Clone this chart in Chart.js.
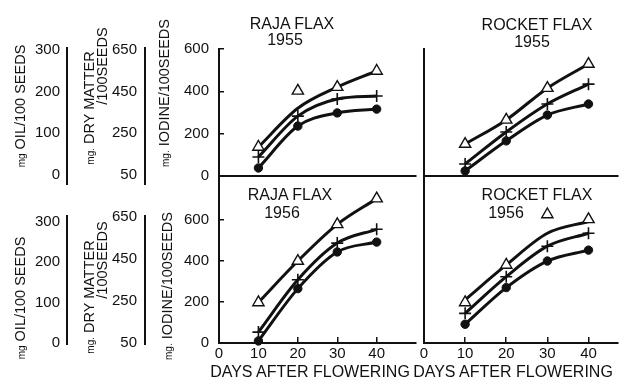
<!DOCTYPE html>
<html>
<head>
<meta charset="utf-8">
<script src="https://cdn.jsdelivr.net/npm/chart.js@4.4.1/dist/chart.umd.min.js"></script>
<style>
body { margin:0; background:#fff; width:626px; height:380px; overflow:hidden; position:relative;
       font-family:"Liberation Sans", Arial, sans-serif; color:#111; }
canvas { position:absolute; }
.lbl { position:absolute; white-space:nowrap; transform:translate(-50%,-50%); font-size:16px; line-height:1; }
.rot { position:absolute; white-space:nowrap; transform:translate(-50%,-50%) rotate(-90deg); font-size:14.5px; line-height:1; }
.rot small { font-size:10px; }
</style>
</head>
<body>
<canvas id="axTop" width="150" height="200" style="left:0;top:0"></canvas>
<canvas id="axBot" width="150" height="180" style="left:0;top:200px"></canvas>
<canvas id="rajaTop" width="274" height="190" style="left:150px;top:0"></canvas>
<canvas id="rocketTop" width="216" height="190" style="left:410px;top:0"></canvas>
<canvas id="rajaBot" width="274" height="210" style="left:150px;top:170px"></canvas>
<canvas id="rocketBot" width="216" height="210" style="left:410px;top:170px"></canvas>

<div class="rot" style="left:20px;top:106px"><small>mg</small> OIL/100 SEEDS</div>
<div class="rot" style="left:89px;top:108px"><small>mg.</small> DRY MATTER</div>
<div class="rot" style="left:102px;top:66px">/100SEEDS</div>
<div class="rot" style="left:164px;top:93px"><small>mg.</small> IODINE/100SEEDS</div>
<div class="rot" style="left:20px;top:298px"><small>mg</small> OIL/100 SEEDS</div>
<div class="rot" style="left:89px;top:297px"><small>mg.</small> DRY MATTER</div>
<div class="rot" style="left:102px;top:260px">/100SEEDS</div>
<div class="rot" style="left:167px;top:286px"><small>mg.</small> IODINE/100SEEDS</div>

<div class="lbl" style="left:292px;top:24px">RAJA FLAX</div>
<div class="lbl" style="left:285px;top:40px">1955</div>
<div class="lbl" style="left:537px;top:25px">ROCKET FLAX</div>
<div class="lbl" style="left:532px;top:42px">1955</div>
<div class="lbl" style="left:290px;top:195px">RAJA FLAX</div>
<div class="lbl" style="left:282px;top:213px">1956</div>
<div class="lbl" style="left:537px;top:195px">ROCKET FLAX</div>
<div class="lbl" style="left:506px;top:213px">1956</div>
<div class="lbl" style="left:310px;top:372px">DAYS AFTER FLOWERING</div>
<div class="lbl" style="left:513px;top:372px">DAYS AFTER FLOWERING</div>

<script>
const days = [10, 20, 30, 40];
const xTicks = [0, 10, 20, 30, 40];
const iodineTicks = [0, 200, 400, 600];
const oilTicks = [0, 100, 200, 300];
const dryTicks = [50, 250, 450, 650];

// values read on the 0-600 scale of each panel
const raja55Tri = [137, 402, 420, 496];
const raja55TriLine = [137, 320, 420, 496];
const raja55Cross = [90, 283, 364, 378];
const raja55Dot = [38, 236, 298, 316];

const rocket55Tri = [151, 265, 415, 529];
const rocket55Cross = [57, 208, 340, 434];
const rocket55Dot = [24, 166, 288, 340];

const raja56Tri = [197, 398, 576, 701];
const raja56Cross = [53, 307, 485, 552];
const raja56Dot = [10, 264, 442, 490];

const rocket56Tri = [197, 379, 624, 600];
const rocket56TriLine = [210, 379, 533, 590];
const rocket56Cross = [144, 322, 470, 533];
const rocket56Dot = [91, 269, 398, 451];

const ink = '#111';
const fam = '"Liberation Sans", Arial, sans-serif';
const tickFont = { family: fam, size: 15 };

function pts(ys) {
    return days.map((d, i) => ({ x: d, y: ys[i] }));
}

function curve(ys) {
    return { data: pts(ys), showLine: true, pointRadius: 0, borderColor: ink, borderWidth: 3,
             tension: 0.4, cubicInterpolationMode: 'monotone' };
}

function panelSets(tri, triLine, cross, dot) {
    return [
        { data: pts(tri), showLine: false, pointStyle: 'triangle', pointRadius: 6.5,
          pointBackgroundColor: '#fff', pointBorderColor: ink, pointBorderWidth: 1.4 },
        { data: pts(cross), showLine: false, pointStyle: 'cross', pointRadius: 6,
          pointBorderColor: ink, pointBorderWidth: 1.6 },
        { data: pts(dot), showLine: false, pointStyle: 'circle', pointRadius: 4.2,
          pointBackgroundColor: ink, pointBorderColor: ink, pointBorderWidth: 1 },
        curve(triLine),
        curve(cross),
        curve(dot)
    ];
}

// no automatic label padding: the panels have to meet edge to edge
function noPad(s) {
    s.paddingLeft = 0; s.paddingRight = 0; s.paddingTop = 0; s.paddingBottom = 0;
}

function panel(id, sets, o) {
    new Chart(document.getElementById(id), {
        type: 'scatter',
        data: { datasets: sets },
        options: {
            responsive: false,
            animation: false,
            devicePixelRatio: 1,
            clip: false,
            layout: { padding: o.pad },
            plugins: { legend: { display: false }, tooltip: { enabled: false } },
            scales: {
                x: {
                    type: 'linear', min: 0, max: o.xMax,
                    afterBuildTicks: s => { s.ticks = xTicks.map(v => ({ value: v })); },
                    ticks: { display: o.xLabels, font: tickFont, color: ink, padding: 8 },
                    grid: { display: o.xLabels, drawOnChartArea: false, tickLength: -6, color: ink, lineWidth: 1.5 },
                    border: { color: ink, width: 2 },
                    afterFit: s => { s.height = o.xH; noPad(s); }
                },
                y: {
                    min: 0, max: o.yMax,
                    afterBuildTicks: s => { s.ticks = iodineTicks.map(v => ({ value: v })); },
                    ticks: { display: o.yLabels, font: tickFont, color: ink, padding: 15 },
                    grid: { display: o.yLabels, drawOnChartArea: false, tickLength: -5, color: ink, lineWidth: 1.5 },
                    border: { color: ink, width: 2 },
                    afterFit: s => { s.width = o.yW; noPad(s); }
                }
            }
        }
    });
}

function sideAxes(id, pad, oilRange, dryRange) {
    new Chart(document.getElementById(id), {
        type: 'scatter',
        data: { datasets: [] },
        options: {
            responsive: false,
            animation: false,
            devicePixelRatio: 1,
            layout: { padding: pad },
            plugins: { legend: { display: false }, tooltip: { enabled: false } },
            scales: {
                x: { display: false },
                y: { display: false },
                oil: {
                    axis: 'y', position: 'left', weight: 2, min: oilRange[0], max: oilRange[1],
                    afterBuildTicks: s => { s.ticks = oilTicks.map(v => ({ value: v })); },
                    ticks: { font: tickFont, color: ink, padding: 7 },
                    grid: { display: false, drawTicks: false, tickLength: 0 },
                    border: { color: ink, width: 2 },
                    afterFit: s => { s.width = 67; noPad(s); }
                },
                dry: {
                    axis: 'y', position: 'left', weight: 1, min: dryRange[0], max: dryRange[1],
                    afterBuildTicks: s => { s.ticks = dryTicks.map(v => ({ value: v })); },
                    ticks: { font: tickFont, color: ink, padding: 8 },
                    grid: { display: false, drawTicks: false, tickLength: 0 },
                    border: { color: ink, width: 2 },
                    afterFit: s => { s.width = 78; noPad(s); }
                }
            }
        }
    });
}

sideAxes('axTop', { top: 48, bottom: 16, left: 0, right: 0 }, [-21.6, 304.8], [6.8, 659.6]);
sideAxes('axBot', { top: 16, bottom: 36, left: 0, right: 0 }, [-2.5, 314.9], [45.2, 654.8]);

panel('rajaTop', panelSets(raja55Tri, raja55TriLine, raja55Cross, raja55Dot),
      { pad: { top: 49, bottom: 10, left: 0, right: 0 }, xMax: 50, yMax: 600, yW: 69, xH: 4, xLabels: false, yLabels: true });
panel('rocketTop', panelSets(rocket55Tri, rocket55Tri, rocket55Cross, rocket55Dot),
      { pad: { top: 49, bottom: 10, left: 0, right: 6 }, xMax: 47.2, yMax: 600, yW: 14, xH: 4, xLabels: false, yLabels: false });
panel('rajaBot', panelSets(raja56Tri, raja56Tri, raja56Cross, raja56Dot),
      { pad: { top: 6, bottom: 0, left: 0, right: 0 }, xMax: 50, yMax: 801.6, yW: 69, xH: 37, xLabels: true, yLabels: true });
panel('rocketBot', panelSets(rocket56Tri, rocket56TriLine, rocket56Cross, rocket56Dot),
      { pad: { top: 6, bottom: 0, left: 0, right: 6 }, xMax: 47.2, yMax: 801.6, yW: 14, xH: 37, xLabels: true, yLabels: false });
</script>
</body>
</html>
